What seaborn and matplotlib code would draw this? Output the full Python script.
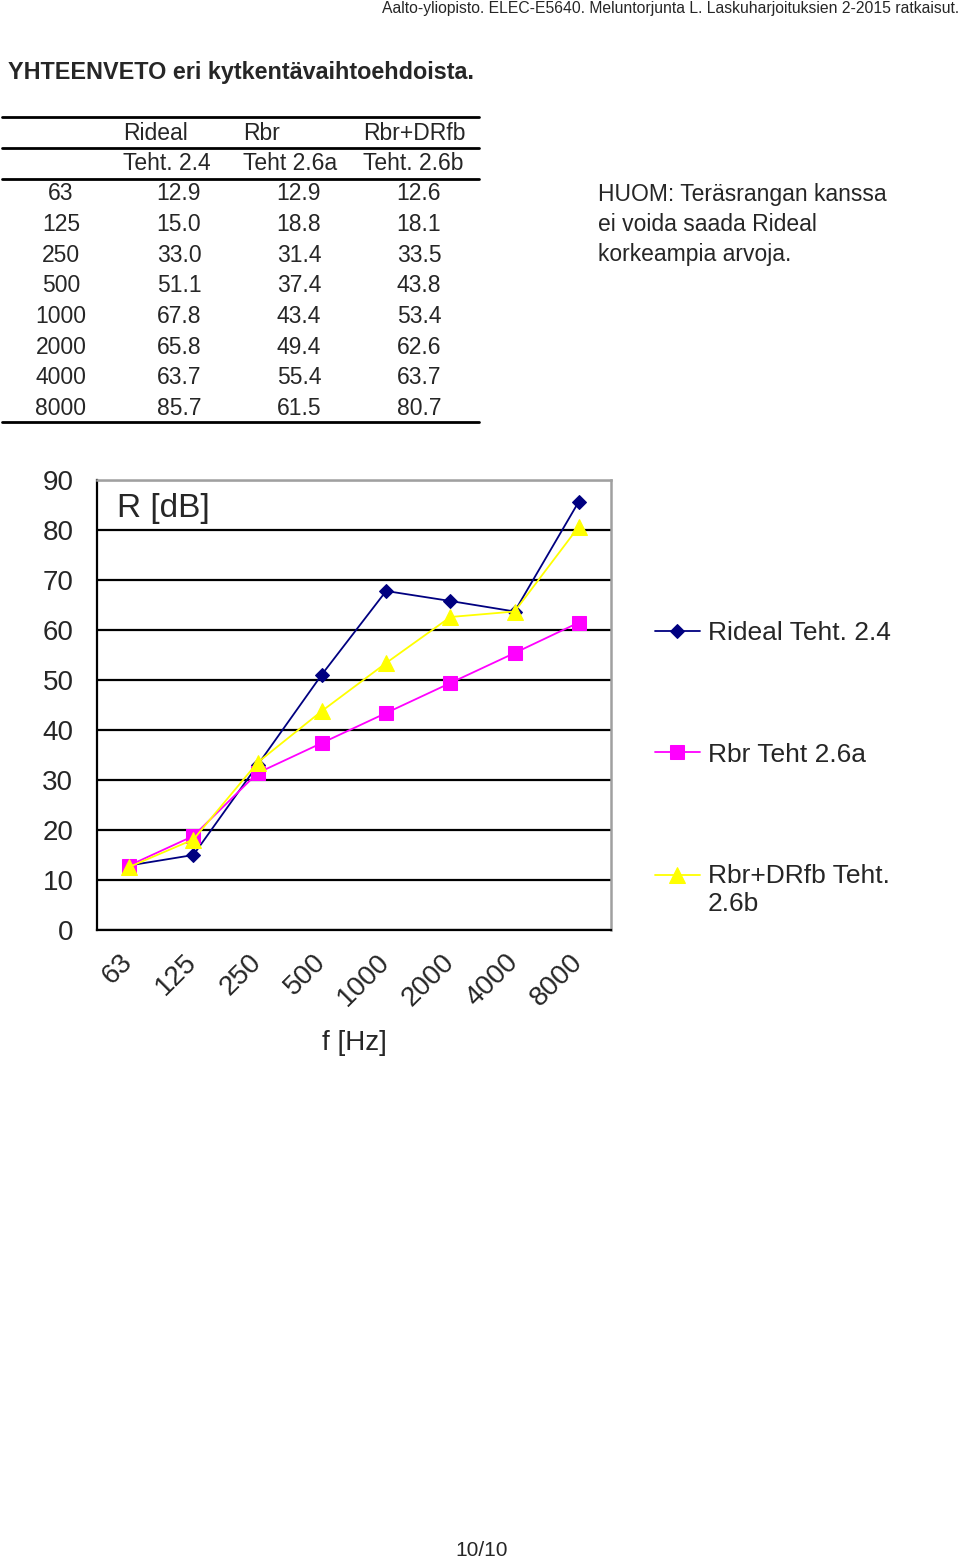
import numpy as np
import pandas as pd
import matplotlib
matplotlib.use("Agg")
import matplotlib.pyplot as plt
import matplotlib.transforms as mtransforms
import seaborn as sns

# ---- data ----
freqs = ["63", "125", "250", "500", "1000", "2000", "4000", "8000"]
rideal = [12.9, 15.0, 33.0, 51.1, 67.8, 65.8, 63.7, 85.7]
rbr = [12.9, 18.8, 31.4, 37.4, 43.4, 49.4, 55.4, 61.5]
rbr_drfb = [12.6, 18.1, 33.5, 43.8, 53.4, 62.6, 63.7, 80.7]
col_heads = ["Rideal", "Rbr", "Rbr+DRfb"]
col_subheads = ["Teht. 2.4", "Teht 2.6a", "Teht. 2.6b"]
series_names = ["Rideal Teht. 2.4", "Rbr Teht 2.6a", "Rbr+DRfb Teht. 2.6b"]
legend_labels = ["Rideal Teht. 2.4", "Rbr Teht 2.6a", "Rbr+DRfb Teht.\n2.6b"]
y_ticks = [0, 10, 20, 30, 40, 50, 60, 70, 80, 90]
header = "Aalto-yliopisto. ELEC-E5640. Meluntorjunta L. Laskuharjoituksien 2-2015 ratkaisut."
title = "YHTEENVETO eri kytkentävaihtoehdoista."
note_lines = ["HUOM: Teräsrangan kanssa", "ei voida saada Rideal", "korkeampia arvoja."]
page_no = "10/10"

sns.set_style("white")
plt.rcParams["font.family"] = ["Liberation Sans", "DejaVu Sans"]

W, H = 960, 1560
fig = plt.figure(figsize=(W / 100, H / 100), dpi=100)

def fx(px):
    return px / W

def fy(py):
    return 1 - py / H

# ---- page header and title ----
fig.text(fx(959), fy(8), header, ha="right", va="center", fontsize=11.3)
fig.text(fx(8), fy(72), title, ha="left", va="center", fontsize=16.8, fontweight="bold")

# ---- table ----
tfs = 16.5
for yy in [117, 148, 179, 422]:
    fig.add_artist(plt.Line2D([fx(2), fx(479)], [fy(yy), fy(yy)], color="black", lw=2.0))
col_left = [123, 243, 363]
for i in range(3):
    fig.text(fx(col_left[i]), fy(133), col_heads[i], ha="left", va="center", fontsize=tfs)
    fig.text(fx(col_left[i]), fy(164), col_subheads[i], ha="left", va="center", fontsize=tfs)
row_y0, row_dy = 194, 30.6
col_centers = [179, 299, 419]
for r, f in enumerate(freqs):
    yy = row_y0 + r * row_dy
    fig.text(fx(61), fy(yy), f, ha="center", va="center", fontsize=tfs)
    for c, vals in enumerate([rideal, rbr, rbr_drfb]):
        fig.text(fx(col_centers[c]), fy(yy), f"{vals[r]:.1f}", ha="center", va="center", fontsize=tfs)

for i, line in enumerate(note_lines):
    fig.text(fx(598), fy(194 + i * 30.5), line, ha="left", va="center", fontsize=tfs)

# ---- chart ----
ax = fig.add_axes([fx(97), fy(930), fx(611) - fx(97), (930 - 480) / H])
x = np.arange(len(freqs))
styles = [
    dict(color="#000080", marker="D", markersize=7.0),
    dict(color="#FF00FF", marker="s", markersize=9.5),
    dict(color="#FFFF00", marker="^", markersize=11.0),
]
for name, vals, st in zip(series_names, [rideal, rbr, rbr_drfb], styles):
    df = pd.DataFrame({"x": x, "y": vals})
    sns.lineplot(data=df, x="x", y="y", ax=ax, color=st["color"], marker=st["marker"],
                 markersize=st["markersize"], markeredgecolor=st["color"],
                 markerfacecolor=st["color"], linewidth=1.3, label=name, zorder=3)

ax.set_xlim(-0.5, len(freqs) - 0.5)
ax.set_ylim(0, 90)
ax.set_yticks(y_ticks)
ax.set_yticklabels([str(v) for v in y_ticks])
ax.set_xticks(np.arange(-0.5, len(freqs), 1.0))
ax.set_xticklabels([])
ax.set_xticks(x, freqs, minor=True)
ax.tick_params(axis="x", which="minor", length=0, pad=14, labelsize=20, labelrotation=45)
shift = mtransforms.ScaledTranslation(9 / 100, 0, fig.dpi_scale_trans)
for lab in ax.get_xticklabels(minor=True):
    lab.set_ha("right")
    lab.set_va("top")
    lab.set_transform(lab.get_transform() + shift)
ax.tick_params(axis="x", which="major", length=7, width=1.5, color="black", direction="out")
ax.tick_params(axis="y", length=6, width=1.5, color="black", direction="out", pad=11, labelsize=20)
ax.set_xlabel("f [Hz]", fontsize=20, labelpad=13)
ax.set_ylabel("")
ax.text((117 - 97) / (611 - 97), 1 - (508 - 480) / 450, "R [dB]", fontsize=24,
        ha="left", va="center", transform=ax.transAxes)

ax.yaxis.grid(True, color="black", linewidth=1.6)
ax.xaxis.grid(False)
for s in ["left", "bottom"]:
    ax.spines[s].set_color("black")
    ax.spines[s].set_linewidth(1.6)
for s in ["top", "right"]:
    ax.spines[s].set_color("#a0a0a0")
    ax.spines[s].set_linewidth(1.8)
    ax.spines[s].set_visible(True)

handles, _ = ax.get_legend_handles_labels()
leg = ax.legend(handles, legend_labels, loc="upper left",
                bbox_to_anchor=(fx(655), fy(621)), bbox_transform=fig.transFigure,
                frameon=False, fontsize=19, handlelength=1.7, handletextpad=0.3,
                labelspacing=3.7, borderpad=0, borderaxespad=0)
# align the wrapped third entry's marker with its first text line
h3 = leg.legend_handles[2]
h3.set_ydata(np.asarray(h3.get_ydata()) + 10.8)

fig.text(fx(482), fy(1550), page_no, ha="center", va="center", fontsize=15)

fig.savefig("out.png", dpi=100)
